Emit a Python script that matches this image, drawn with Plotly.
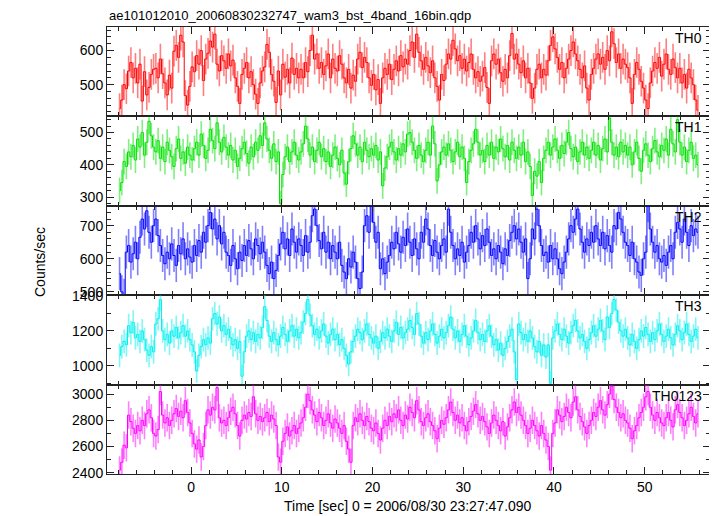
import numpy as np
import plotly.graph_objects as go
from plotly.subplots import make_subplots

TITLE = "ae101012010_20060830232747_wam3_bst_4band_16bin.qdp"
X_TITLE = "Time [sec] 0 = 2006/08/30 23:27:47.090"
Y_TITLE = "Counts/sec"
BANDS = ["TH0", "TH1", "TH2", "TH3", "TH0123"]

# bin start time and width (s)
T_START = -8.0
BIN_WIDTH = 0.25

TH0 = [
    430, 455, 500, 488, 540, 565, 520, 548, 505, 560, 452, 538, 470, 492, 530, 545,
    548, 520, 575, 532, 505, 470, 528, 490, 598, 615, 580, 645, 625, 468, 440, 495,
    552, 538, 585, 560, 600, 512, 575, 592, 628, 610, 648, 560, 540, 585, 570, 548,
    590, 555, 572, 520, 495, 445, 530, 548, 565, 520, 538, 500, 472, 445, 505, 540,
    552, 618, 595, 530, 510, 448, 540, 470, 560, 522, 545, 505, 578, 530, 548, 520,
    545, 520, 565, 538, 600, 645, 575, 590, 548, 565, 530, 555, 590, 520, 575, 548,
    540, 585, 560, 520, 505, 545, 490, 528, 510, 575, 595, 550, 580, 565, 520, 498,
    530, 485, 515, 445, 520, 548, 530, 560, 515, 545, 570, 540, 585, 552, 575, 560,
    600, 625, 580, 648, 595, 570, 545, 580, 555, 535, 570, 520, 495, 455, 530, 512,
    560, 590, 575, 630, 605, 570, 585, 548, 575, 540, 565, 590, 545, 520, 538, 510,
    525, 550, 492, 445, 570, 590, 560, 575, 535, 510, 545, 520, 585, 650, 575, 590,
    560, 535, 570, 520, 548, 505, 460, 490, 545, 560, 520, 545, 528, 570, 615, 640,
    605, 580, 545, 565, 520, 548, 575, 600, 625, 590, 570, 545, 520, 555, 490, 455,
    530, 548, 575, 590, 560, 580, 545, 600, 570, 655, 620, 565, 590, 548, 575, 560,
    550, 520, 445, 530, 565, 545, 510, 490, 455, 430, 505, 540, 565, 548, 580, 525,
    560, 590, 545, 530, 575, 550, 520, 548, 505, 530, 490, 545, 520, 500, 455, 425,
]

TH1 = [
    320, 345, 410, 395, 440, 425, 460, 415, 480, 455, 500, 430, 470, 535, 490, 455,
    440, 475, 420, 455, 410, 470, 445, 425, 395, 450, 480, 420, 440, 405, 455, 430,
    415, 450, 470, 430, 495, 460, 420, 445, 510, 475, 450, 530, 470, 440, 485, 455,
    430, 460, 415, 445, 395, 420, 450, 470, 435, 405, 455, 425, 470, 445, 490, 460,
    530, 480, 445, 420, 465, 410, 440, 280, 370, 425, 455, 410, 440, 470, 430, 415,
    440, 465, 520, 480, 430, 455, 410, 445, 470, 425, 450, 410, 440, 395, 430, 455,
    420, 400, 445, 375, 340, 410, 450, 490, 465, 430, 455, 410, 470, 445, 425, 450,
    430, 460, 415, 440, 335, 390, 425, 455, 470, 440, 415, 450, 430, 465, 440, 495,
    500, 470, 445, 420, 460, 430, 410, 445, 470, 430, 520, 465, 350, 400, 440, 455,
    430, 465, 445, 410, 440, 470, 425, 455, 420, 345, 410, 445, 465, 510, 470, 430,
    445, 410, 460, 430, 470, 420, 455, 440, 480, 450, 425, 460, 415, 470, 445, 420,
    455, 430, 470, 410, 440, 395, 305, 380, 365, 410, 345, 420, 445, 470, 430, 455,
    480, 445, 420, 460, 435, 470, 500, 450, 425, 455, 410, 440, 470, 430, 455, 420,
    445, 470, 430, 460, 415, 450, 480, 440, 545, 470, 430, 455, 425, 470, 440, 460,
    430, 455, 400, 440, 470, 420, 380, 445, 465, 430, 410, 450, 475, 440, 425, 460,
    445, 480, 430, 510, 465, 440, 540, 470, 430, 455, 410, 445, 470, 420, 430, 400,
]

TH2 = [
    555, 500, 490, 620, 640, 590, 615, 650, 600, 665, 720, 690, 745, 680, 650, 700,
    720, 670, 640, 610, 585, 620, 600, 645, 610, 580, 640, 615, 660, 600, 630, 605,
    590, 640, 610, 655, 620, 680, 650, 700, 740, 690, 720, 660, 700, 645, 680, 620,
    610, 580, 640, 600, 570, 620, 595, 640, 610, 655, 630, 600, 660, 640, 615, 650,
    620, 580, 555, 590, 540, 565, 610, 645, 680, 630, 660, 610, 690, 650, 620, 660,
    640, 610, 670, 620, 650, 730, 750, 700, 655, 630, 680, 620, 650, 600, 640, 620,
    600, 650, 580, 560, 540, 600, 575, 620, 590, 540, 510, 560, 700, 730, 680, 760,
    710, 650, 680, 570, 600, 555, 590, 610, 650, 630, 680, 645, 620, 665, 640, 690,
    650, 610, 660, 630, 600, 680, 650, 720, 690, 640, 610, 655, 620, 600, 640, 660,
    620, 750, 680, 640, 600, 630, 610, 650, 590, 620, 640, 680, 650, 700, 660, 630,
    670, 640, 690, 650, 610, 630, 600, 640, 620, 585, 630, 610, 655, 680, 700, 660,
    690, 650, 620, 660, 540, 600, 690, 660, 750, 700, 640, 610, 620, 590, 640, 600,
    630, 600, 570, 555, 590, 620, 660, 700, 680, 720, 750, 690, 650, 620, 660, 640,
    680, 650, 700, 660, 640, 680, 630, 670, 640, 620, 700, 690, 740, 720, 680, 650,
    640, 610, 650, 600, 590, 560, 550, 600, 620, 760, 690, 650, 620, 640, 600, 590,
    610, 580, 620, 640, 600, 680, 710, 690, 650, 720, 680, 640, 700, 670, 690, 680,
]

TH3 = [
    1060, 1110, 1140, 1120, 1230, 1190, 1250, 1160, 1180, 1140, 1200, 1150, 1090, 1060, 1110, 1080,
    1240, 1270, 1380, 1200, 1150, 1180, 1130, 1200, 1170, 1220, 1160, 1190, 1230, 1170, 1200, 1150,
    1120, 1080, 970, 1060, 1110, 1150, 1120, 1160, 1130, 1270, 1300, 1240, 1280, 1200, 1230, 1180,
    1210, 1160, 1120, 1150, 1100, 1140, 940, 1080, 1170, 1200, 1150, 1190, 1140, 1180, 1160, 1220,
    1340, 1260, 1170, 1140, 1190, 1150, 1120, 1170, 1220, 1180, 1140, 1200, 1230, 1170, 1210, 1160,
    1190, 1250, 1300, 1380, 1290, 1230, 1180, 1210, 1160, 1200, 1240, 1170, 1130, 1180, 1210, 1150,
    1180, 1120, 1150, 1100, 1060, 1010, 1080, 1140, 1170, 1210, 1190, 1150, 1200, 1240, 1180, 1160,
    1130, 1170, 1100, 1140, 1190, 1160, 1210, 1170, 1140, 1200, 1250, 1180, 1220, 1160, 1190, 1210,
    1260, 1220, 1180, 1300, 1240, 1170, 1130, 1190, 1150, 1200, 1240, 1180, 1130, 1170, 1210, 1160,
    1190, 1230, 1280, 1210, 1160, 1200, 1140, 1180, 1230, 1170, 1120, 1160, 1200, 1260, 1190, 1150,
    1180, 1140, 1200, 1230, 1170, 1120, 1150, 1090, 1130, 1060, 1100, 1140, 1170, 1210, 1080, 920,
    1240, 1190, 1150, 1180, 1140, 1200, 1160, 1110, 1080, 1140, 1060, 1120, 1050, 1120, 900, 1160,
    1200, 1240, 1180, 1150, 1210, 1170, 1130, 1190, 1230, 1260, 1200, 1160, 1180, 1140, 1100, 1150,
    1190, 1230, 1170, 1210, 1260, 1200, 1150, 1280, 1220, 1300, 1380, 1320, 1250, 1200, 1170, 1210,
    1160, 1120, 1180, 1140, 1100, 1150, 1200, 1170, 1220, 1180, 1140, 1190, 1150, 1200, 1240, 1180,
    1140, 1170, 1210, 1160, 1120, 1180, 1230, 1200, 1150, 1190, 1240, 1180, 1140, 1170, 1210, 1160,
]

TH0123 = [
    2420, 2480, 2610, 2590, 2840, 2790, 2740, 2700, 2760, 2720, 2800, 2760, 2850, 2880, 2820, 2700,
    2680, 2730, 3020, 2840, 2780, 2820, 2760, 2800, 2850, 2890, 2830, 2870, 2820, 2950, 2860, 2780,
    2700, 2620, 2580, 2650, 2520, 2600, 2760, 2880, 2840, 2900, 2880, 3050, 2820, 2780, 2800, 2760,
    2820, 2870, 2900, 2850, 2760, 2680, 2800, 2840, 2810, 2860, 2830, 2980, 2850, 2800, 2830, 2790,
    2820, 2860, 2790, 2840, 2810, 2760, 2520, 2480, 2640, 2700, 2750, 2680, 2720, 2760, 2700, 2740,
    2780, 2820, 2900, 3000, 2950, 2880, 2840, 2790, 2860, 2820, 2760, 2800, 2850, 2780, 2740, 2810,
    2780, 2740, 2700, 2760, 2640, 2580, 2480, 2760, 2820, 2790, 2850, 2800, 2760, 2830, 2790, 2740,
    2720, 2780, 2700, 2650, 2740, 2800, 2760, 2830, 2790, 2850, 2820, 2880, 2800, 2760, 2840, 2810,
    2900, 2860, 2820, 2950, 2880, 2790, 2760, 2820, 2850, 2790, 2760, 2720, 2660, 2740, 2800, 2770,
    2820, 2880, 2940, 2860, 2800, 2840, 2780, 2820, 2760, 2720, 2790, 2830, 2870, 2920, 2850, 2800,
    2830, 2790, 2750, 2700, 2780, 2840, 2800, 2760, 2720, 2790, 2680, 2750, 2820, 2880, 2940, 2860,
    2900, 2840, 2800, 2760, 2700, 2740, 2800, 2760, 2720, 2680, 2760, 2700, 2650, 2600, 2420, 2700,
    2780, 2880, 2840, 2790, 2830, 2900, 2860, 2820, 2940, 2980, 2880, 2830, 2790, 2750, 2700, 2760,
    2800, 2860, 2830, 2900, 2950, 2880, 2840, 2920, 3000, 3060, 2960, 2900, 2860, 2820, 2850, 2800,
    2780, 2740, 2660, 2720, 2760, 2820, 2860, 2900, 2980, 3020, 2900, 2840, 2800, 2860, 2820, 2780,
    2760, 2820, 2860, 2800, 2750, 2880, 2920, 2860, 2820, 2760, 2800, 2850, 2900, 2830, 2780, 2850,
]

SERIES = [TH0, TH1, TH2, TH3, TH0123]
ERRORS = [45, 40, 50, 68, 105]
Y_RANGES = [[407, 669], [273, 550], [490, 760], [892, 1405], [2390, 3073]]
Y_DTICK = [100, 100, 100, 200, 200]
Y_MINOR = [20, 20, 20, 100, 100]
X_RANGE = [-9.26, 57.2]

LINE_COLORS = ["rgb(255,0,0)", "rgb(0,225,0)", "rgb(0,0,255)", "rgb(0,240,240)", "rgb(255,0,255)"]
ERR_COLORS = ["rgba(255,0,0,0.5)", "rgba(0,225,0,0.5)", "rgba(0,0,255,0.5)",
              "rgba(0,240,240,0.5)", "rgba(255,0,255,0.5)"]

# page coordinates of the plot frame in the reference; the page body has an 8px margin
OFF = 8
W, H = 717 - OFF, 516 - OFF
FRAME_L, FRAME_R, FRAME_T, FRAME_B = 107, 710, 27, 474
ML = FRAME_L - OFF
MR = 717 - FRAME_R
MT = FRAME_T - OFF
MB = 516 - FRAME_B
FONT = "Liberation Sans, Arial, Helvetica, sans-serif"

t = T_START + BIN_WIDTH * (np.arange(len(TH0)) + 0.5)

fig = make_subplots(rows=5, cols=1, shared_xaxes=True, vertical_spacing=0)

for i, (vals, err) in enumerate(zip(SERIES, ERRORS)):
    fig.add_trace(go.Scatter(
        x=t, y=vals, mode="lines",
        line=dict(color=LINE_COLORS[i], width=1, shape="hvh"),
        error_y=dict(type="constant", value=err, thickness=1.6, width=0, color=ERR_COLORS[i]),
        showlegend=False, hoverinfo="skip",
    ), row=i + 1, col=1)
    fig.update_yaxes(
        range=Y_RANGES[i], dtick=Y_DTICK[i], tick0=0,
        ticks="inside", ticklen=7, tickcolor="#222", tickwidth=1,
        minor=dict(ticks="inside", dtick=Y_MINOR[i], ticklen=4, tickcolor="#222", tickwidth=1),
        showline=True, linecolor="#222", linewidth=1, mirror="allticks",
        showgrid=False, zeroline=False,
        tickfont=dict(family=FONT, size=14, color="black"),
        row=i + 1, col=1)
    fig.update_xaxes(
        range=X_RANGE, dtick=10, tick0=0,
        ticks="inside", ticklen=7, tickcolor="#222", tickwidth=1,
        minor=dict(ticks="inside", dtick=2, ticklen=4, tickcolor="#222", tickwidth=1),
        showline=True, linecolor="#222", linewidth=1, mirror="allticks",
        showgrid=False, zeroline=False,
        tickfont=dict(family=FONT, size=14, color="black"),
        row=i + 1, col=1)

plot_h = FRAME_B - FRAME_T
plot_w = FRAME_R - FRAME_L


def px_x(page_x):
    return (page_x - FRAME_L) / plot_w


def px_y(page_y):
    return (FRAME_B - page_y) / plot_h


annotations = []
for i, name in enumerate(BANDS):
    top_page = FRAME_T + i * plot_h / 5
    annotations.append(dict(
        text=name, x=px_x(704), y=px_y(top_page + 11),
        xref="paper", yref="paper", xanchor="right", yanchor="middle",
        showarrow=False, font=dict(family=FONT, size=14, color="black")))

annotations.append(dict(
    text=TITLE, x=px_x(107), y=px_y(15),
    xref="paper", yref="paper", xanchor="left", yanchor="middle",
    showarrow=False, font=dict(family=FONT, size=13, color="black")))
annotations.append(dict(
    text=X_TITLE, x=px_x(408), y=px_y(506),
    xref="paper", yref="paper", xanchor="center", yanchor="middle",
    showarrow=False, font=dict(family=FONT, size=14, color="black")))
annotations.append(dict(
    text=Y_TITLE, x=px_x(40), y=px_y(262),
    xref="paper", yref="paper", xanchor="center", yanchor="middle", textangle=-90,
    showarrow=False, font=dict(family=FONT, size=14, color="black")))

fig.update_layout(
    width=W, height=H,
    margin=dict(l=ML, r=MR, t=MT, b=MB),
    paper_bgcolor="white", plot_bgcolor="white",
    annotations=annotations,
    showlegend=False,
)

fig.write_html("out.html")
